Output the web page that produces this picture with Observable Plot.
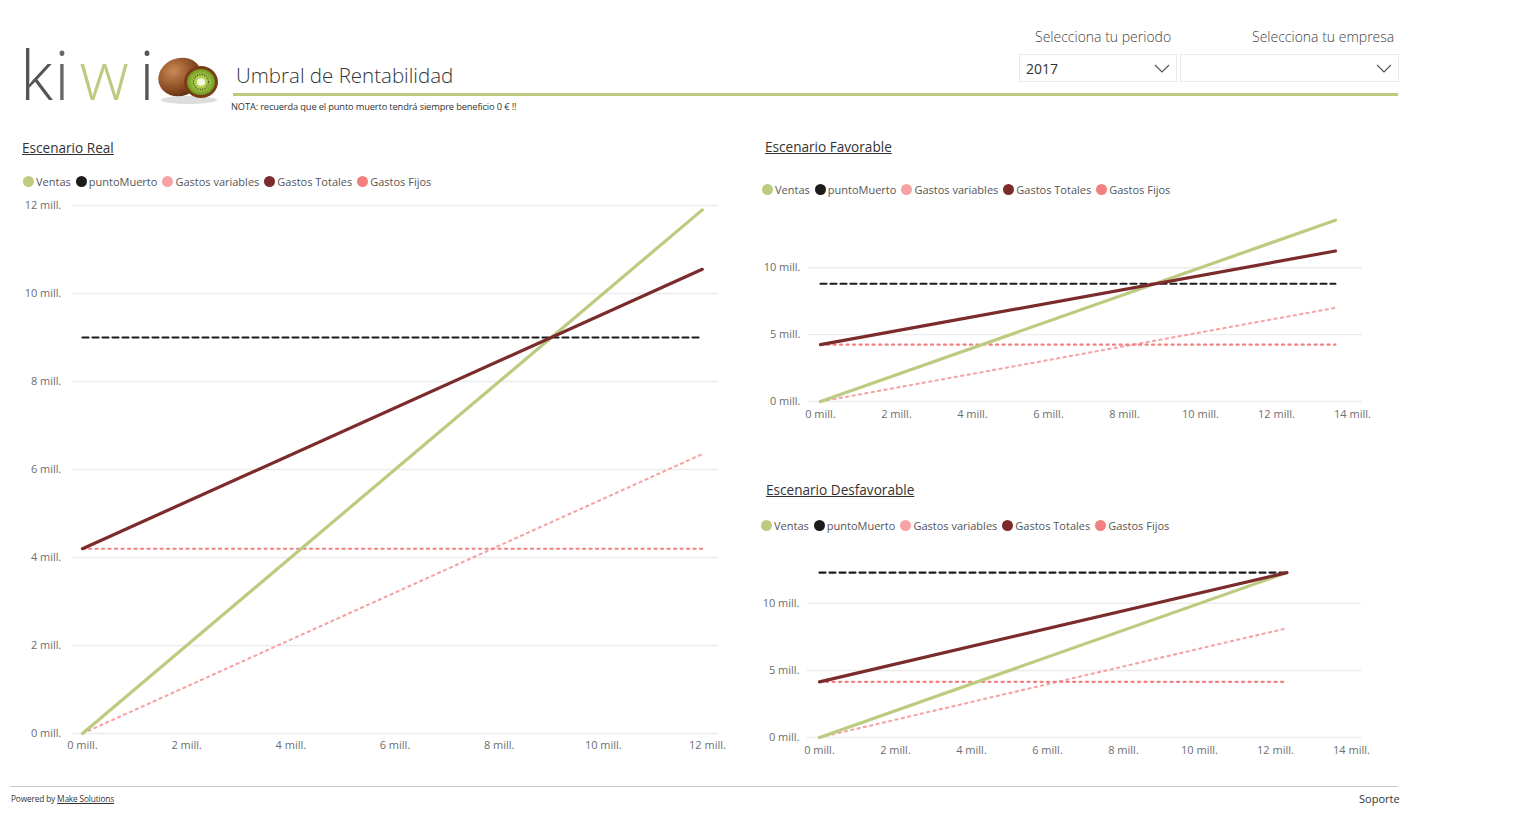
<!DOCTYPE html>
<html lang="es">
<head>
<meta charset="utf-8">
<script src="https://cdn.jsdelivr.net/npm/d3@7"></script>
<script src="https://cdn.jsdelivr.net/npm/@observablehq/plot@0.6"></script>
<style>
  html, body { margin: 0; padding: 0; background: #fff; }
  body { width: 1527px; height: 827px; position: relative; overflow: hidden;
         font-family: "Open Sans", "Noto Sans", "DejaVu Sans", sans-serif; color: #333; }
  .abs { position: absolute; }
  .logo { font-size: 68px; font-weight: 300; line-height: 1; white-space: nowrap; }
  .logo span { display: inline-block; text-align: center; }
  .title { font-size: 20.5px; font-weight: 300; color: #333; white-space: nowrap; }
  .rule { width: 1165px; height: 3px; background: #bccb80; }
  .nota { font-size: 9.3px; color: #333; white-space: nowrap; letter-spacing: -0.15px; }
  .slicer-label { font-size: 14px; font-weight: 300; color: #444; white-space: nowrap; }
  .slicer { height: 28px; border: 1px solid #eaeaea; box-sizing: border-box; }
  .slicer .val { position: absolute; left: 6px; top: 4px; font-size: 14px; color: #333; }
  .slicer svg { position: absolute; right: 6px; top: 9px; }
  .section { font-size: 13.6px; color: #333; text-decoration: underline; white-space: nowrap; }
  .legend { font-size: 11px; color: #555; white-space: nowrap; display: flex; align-items: center; }
  .legend .item { display: flex; align-items: center; margin-right: 5px; }
  .legend .dot { width: 11px; height: 11px; border-radius: 50%; margin-right: 2px; }
  .footer-line { width: 1388px; height: 1px; background: #c8c8c8; }
  .powered { font-size: 8.3px; color: #333; white-space: nowrap; letter-spacing: -0.15px; }
  .powered u { text-decoration: underline; }
  .soporte { font-size: 11px; color: #333; }
</style>
</head>
<body>
<div id="root"></div>
<script>
// Series names and their styles
const serieNames = ["Ventas", "puntoMuerto", "Gastos variables", "Gastos Totales", "Gastos Fijos"];
const serieColors = ["#bccb80", "#1c1c1c", "#f7a3a3", "#7b2b2b", "#f28080"];

// Scenario titles
const escenarios = ["Escenario Real", "Escenario Favorable", "Escenario Desfavorable"];

// Escenario Real (millions of euros) – values at the first and last sales level
const xReal = [0, 11.9];
const ventasReal = [0, 11.9];
const puntoMuertoReal = [9.0, 9.0];
const gastosVariablesReal = [0, 6.35];
const gastosTotalesReal = [4.2, 10.55];
const gastosFijosReal = [4.2, 4.2];

// Escenario Favorable
const xFav = [0, 13.55];
const ventasFav = [0, 13.55];
const puntoMuertoFav = [8.8, 8.8];
const gastosVariablesFav = [0, 7.0];
const gastosTotalesFav = [4.25, 11.25];
const gastosFijosFav = [4.25, 4.25];

// Escenario Desfavorable
const xDes = [0, 12.3];
const ventasDes = [0, 12.3];
const puntoMuertoDes = [12.3, 12.3];
const gastosVariablesDes = [0, 8.15];
const gastosTotalesDes = [4.15, 12.3];
const gastosFijosDes = [4.15, 4.15];

// Axis ticks
const ticksReal = [0, 2, 4, 6, 8, 10, 12];
const ticksX14 = [0, 2, 4, 6, 8, 10, 12, 14];
const ticksY5 = [0, 5, 10];

const fmt = d => `${d} mill.`;

function tidy(xs, cols) {
  const rows = [];
  serieNames.forEach((name, k) => {
    xs.forEach((x, i) => rows.push({serie: name, x, y: cols[k][i]}));
  });
  return rows;
}

// Line style for each series
const lineStyle = {
  "puntoMuerto":      {strokeWidth: 2.2, strokeDasharray: "6,4"},
  "Gastos variables": {strokeWidth: 2.1, strokeDasharray: "2.2,4.3"},
  "Gastos Fijos":     {strokeWidth: 2.1, strokeDasharray: "2.2,4.3"},
  "Ventas":           {strokeWidth: 3.2},
  "Gastos Totales":   {strokeWidth: 3.2}
};
const drawOrder = ["puntoMuerto", "Gastos variables", "Gastos Fijos", "Ventas", "Gastos Totales"];

function lineChart(o) {
  const data = tidy(o.xs, o.cols);
  const marks = [
    Plot.gridY(o.yTicks, {stroke: "#ececec", strokeOpacity: 1, strokeWidth: 1.4}),
    Plot.axisY(o.yTicks, {tickSize: 0, tickPadding: o.yPad, tickFormat: fmt, fill: "#6e6e6e", fontSize: 11, label: null}),
    Plot.axisX(o.xTicks, {tickSize: 0, tickPadding: o.xPad, tickFormat: fmt, fill: "#6e6e6e", fontSize: 11, label: null})
  ];
  for (const s of drawOrder) {
    const c = serieColors[serieNames.indexOf(s)];
    marks.push(Plot.line(data.filter(d => d.serie === s), {x: "x", y: "y", stroke: c, ...lineStyle[s]}));
  }
  return Plot.plot({
    width: o.width, height: o.height,
    marginLeft: o.ml, marginRight: o.mr, marginTop: o.mt, marginBottom: o.mb,
    x: {domain: o.xDomain, insetLeft: o.il, insetRight: o.ir},
    y: {domain: o.yDomain},
    style: {fontFamily: "'Open Sans', 'Noto Sans', sans-serif", background: "transparent", overflow: "visible"},
    marks
  });
}

const root = document.getElementById("root");
function place(el, left, top) {
  el.classList.add("abs");
  el.style.left = left + "px";
  el.style.top = top + "px";
  root.appendChild(el);
  return el;
}
function html(str, left, top, cls) {
  const d = document.createElement("div");
  d.className = cls || "";
  d.innerHTML = str;
  return place(d, left, top);
}
function legend(left, top) {
  const d = document.createElement("div");
  d.className = "legend";
  serieNames.forEach((n, i) => {
    const it = document.createElement("div");
    it.className = "item";
    it.innerHTML = `<span class="dot" style="background:${serieColors[i]}"></span><span>${n}</span>`;
    d.appendChild(it);
  });
  return place(d, left, top);
}

// Header: logo
html(`<span style="color:#555;width:26px">k</span><span style="color:#666;width:32px">i</span><span style="color:#bccb80;width:52px">w</span><span style="color:#555;width:34px">i</span>`, 20, 40, "logo");
const kiwi = document.createElement("div");
kiwi.innerHTML = `<svg width="66" height="50" viewBox="0 0 66 50">
  <defs>
    <radialGradient id="skin" cx="0.4" cy="0.3" r="0.8">
      <stop offset="0" stop-color="#c98a55"/><stop offset="0.6" stop-color="#8a4a22"/><stop offset="1" stop-color="#4e2410"/>
    </radialGradient>
    <radialGradient id="flesh" cx="0.5" cy="0.5" r="0.5">
      <stop offset="0" stop-color="#eef5c8"/><stop offset="0.35" stop-color="#b8d25a"/><stop offset="1" stop-color="#6f9a1e"/>
    </radialGradient>
  </defs>
  <ellipse cx="33" cy="45" rx="28" ry="4" fill="#ddd"/>
  <ellipse cx="24" cy="22" rx="22" ry="19" transform="rotate(-20 24 22)" fill="url(#skin)"/>
  <ellipse cx="45" cy="27" rx="17" ry="16" fill="#7a3d18"/>
  <ellipse cx="45" cy="27" rx="14" ry="13" fill="url(#flesh)"/>
  <ellipse cx="45" cy="27" rx="4" ry="3.5" fill="#f4f8e0"/>
  <circle cx="45" cy="27" r="7.5" fill="none" stroke="#2c2c10" stroke-width="1.2" stroke-dasharray="0.8,1.6"/>
</svg>`;
place(kiwi, 156, 55);

// Header: title, rule, note
html("Umbral de Rentabilidad", 236, 61, "title");
html("", 233, 93, "rule");
html("NOTA: recuerda que el punto muerto tendrá siempre beneficio 0 € !!", 231, 100, "nota");

// Slicers
const chevron = `<svg width="16" height="10" viewBox="0 0 16 10"><path d="M1 1 L8 8 L15 1" fill="none" stroke="#555" stroke-width="1.2"/></svg>`;
html("Selecciona tu periodo", 1035, 27, "slicer-label");
html("Selecciona tu empresa", 1252, 27, "slicer-label");
const s1 = html(`<span class="val">2017</span>${chevron}`, 1019, 54, "slicer");
s1.style.width = "158px";
const s2 = html(`${chevron}`, 1180, 54, "slicer");
s2.style.width = "219px";

// Section titles and legends
html(escenarios[0], 22, 138, "section");
legend(23, 174);
html(escenarios[1], 765, 137, "section");
legend(762, 182);
html(escenarios[2], 766, 480, "section");
legend(761, 518);

// Charts
place(lineChart({
  xs: xReal,
  cols: [ventasReal, puntoMuertoReal, gastosVariablesReal, gastosTotalesReal, gastosFijosReal],
  width: 740, height: 565, ml: 72, mr: 22, mt: 10, mb: 27, il: 10, ir: 11, yPad: 11, xPad: 8,
  xDomain: [0, 12], yDomain: [0, 12], xTicks: ticksReal, yTicks: ticksReal
}), 0, 195);

place(lineChart({
  xs: xFav,
  cols: [ventasFav, puntoMuertoFav, gastosVariablesFav, gastosTotalesFav, gastosFijosFav],
  width: 640, height: 230, ml: 58, mr: 28, mt: 11, mb: 29, il: 12, ir: 10, yPad: 8, xPad: 9,
  xDomain: [0, 14], yDomain: [0, 14.2], xTicks: ticksX14, yTicks: ticksY5
}), 750, 200);

place(lineChart({
  xs: xDes,
  cols: [ventasDes, puntoMuertoDes, gastosVariablesDes, gastosTotalesDes, gastosFijosDes],
  width: 640, height: 217, ml: 57, mr: 29, mt: 10, mb: 30, il: 12, ir: 10, yPad: 8, xPad: 9,
  xDomain: [0, 14], yDomain: [0, 13.2], xTicks: ticksX14, yTicks: ticksY5
}), 750, 550);

// Footer
html("", 10, 786, "footer-line");
html(`Powered by <u>Make Solutions</u>`, 11, 793, "powered");
html("Soporte", 1359, 791, "soporte");
</script>
</body>
</html>
